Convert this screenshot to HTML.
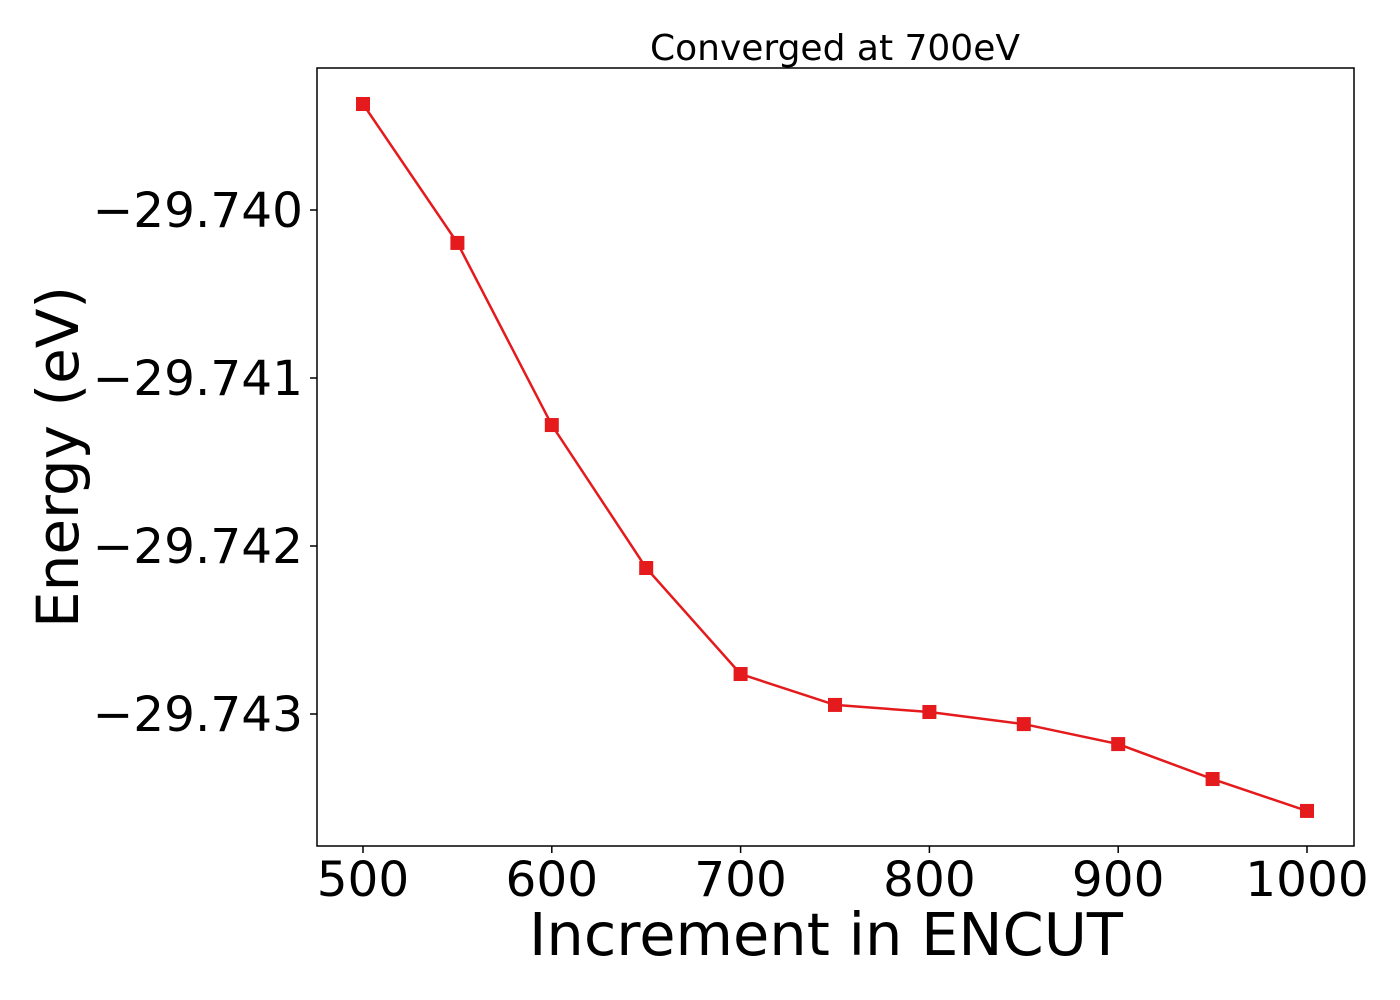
<!DOCTYPE html>
<html><head><meta charset="utf-8"><style>
html,body{margin:0;padding:0;background:#fff;}
svg{display:block;font-family:"DejaVu Sans","Liberation Sans",sans-serif;}
</style></head><body>
<svg id="chart" width="1400" height="1000">
<text x="835" y="60" font-size="36" text-anchor="middle" fill="#000">Converged at 700eV</text>
<rect x="317" y="68" width="1037" height="778" fill="none" stroke="#000" stroke-width="1.5"/>
<g id="xt"></g>
<g id="yt"></g>
<g id="series"></g>
<text x="826" y="955" font-size="59" text-anchor="middle">Increment in ENCUT</text>
<text transform="translate(78,457) rotate(-90)" font-size="58" text-anchor="middle">Energy (eV)</text>
</svg>
<script>
const encut=[500,550,600,650,700,750,800,850,900,950,1000];
const energy=[-29.739369,-29.740196,-29.74128,-29.742131,-29.742762,-29.742946,-29.742988,-29.74306,-29.743179,-29.743387,-29.743577];
const xTicks=[500,600,700,800,900,1000];
const yTicks=[-29.740,-29.741,-29.742,-29.743];
const yTickLabels=["\u221229.740","\u221229.741","\u221229.742","\u221229.743"];
const NS="http://www.w3.org/2000/svg";
function sx(v){return 363+(v-500)*(1307-363)/500;}
function sy(v){return 210+(-29.740-v)*168000;}
function mk(t,a,p){const e=document.createElementNS(NS,t);for(const k in a)e.setAttribute(k,a[k]);p.appendChild(e);return e;}
const xt=document.getElementById('xt'),yt=document.getElementById('yt'),s=document.getElementById('series');
xTicks.forEach(v=>{
  const l=mk('line',{x1:sx(v),x2:sx(v),y1:846,y2:853,stroke:'#000','stroke-width':1.5},xt);
  
  
  const t=mk('text',{x:sx(v),y:896,'font-size':48.5,'text-anchor':'middle'},xt);
  t.textContent=v;
  
  
});
yTicks.forEach((v,i)=>{
  const l=mk('line',{x1:310,x2:317,y1:sy(v),y2:sy(v),stroke:'#000','stroke-width':1.5},yt);
  
  
  const t=mk('text',{x:303,y:sy(v)+17,'font-size':48.5,'text-anchor':'end'},yt);
  t.textContent=yTickLabels[i];
  
  
});
const pts=encut.map((x,i)=>sx(x)+','+sy(energy[i])).join(' ');
const pl=mk('polyline',{points:pts,fill:'none',stroke:'#e41a1c','stroke-width':2.5},s);


encut.forEach((x,i)=>{
  const r=mk('rect',{x:sx(x)-7,y:sy(energy[i])-7,width:14,height:14,fill:'#e41a1c'},s);
  
  
});
</script>
</body></html>
